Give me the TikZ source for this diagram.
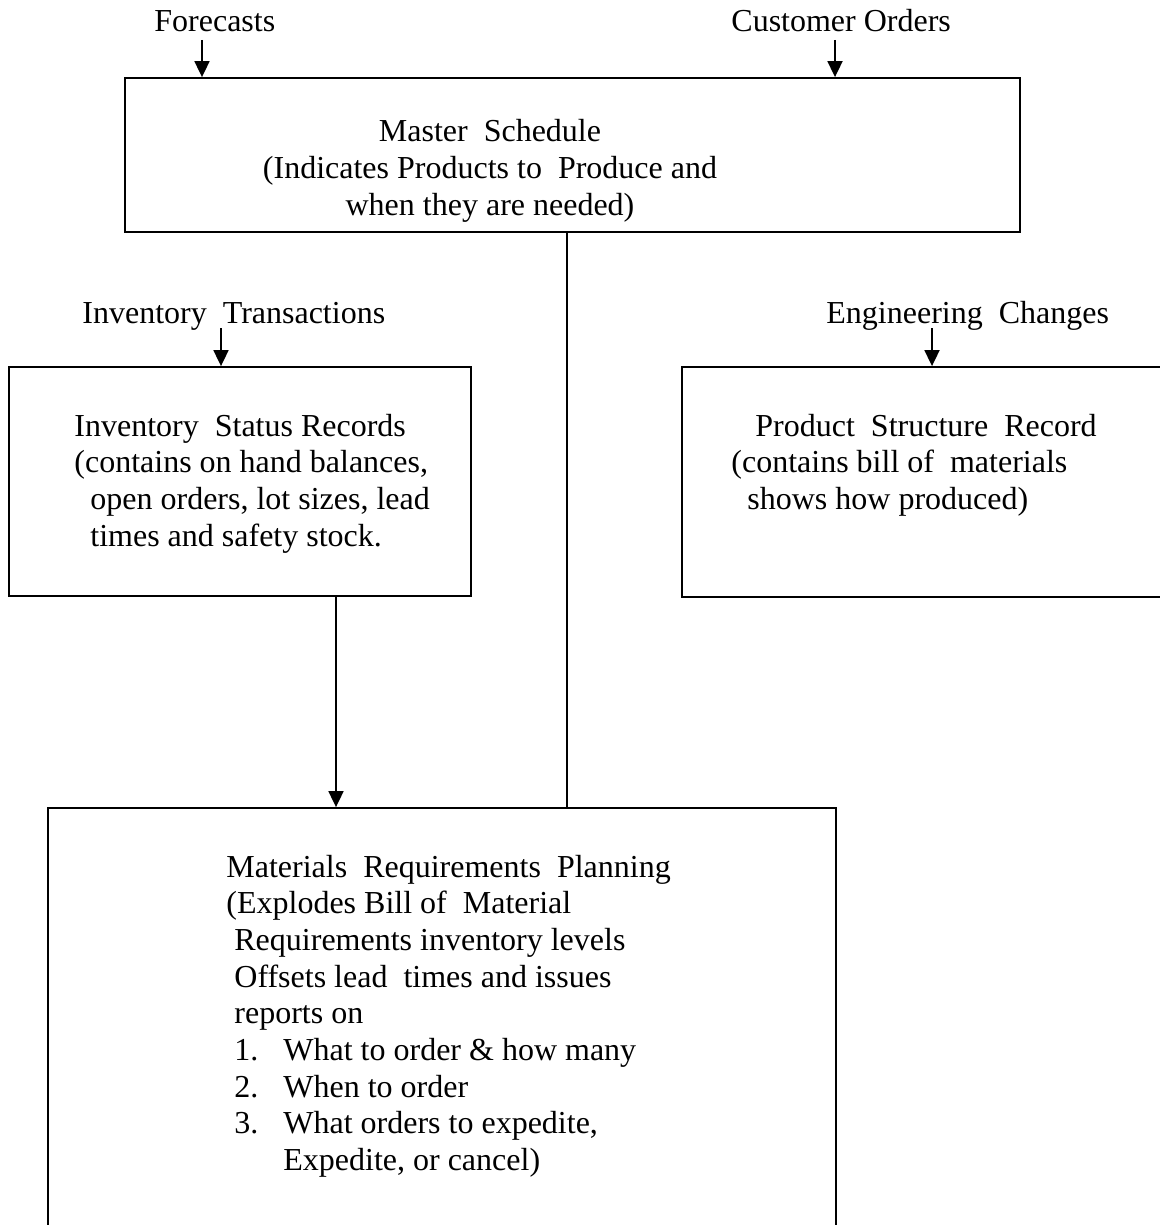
\documentclass[tikz,border=0pt]{standalone}
\usepackage{fontspec}
\setmainfont{Liberation Serif}
\usetikzlibrary{arrows.meta}
\newcommand{\indt}[1]{\hspace*{#1}}
\begin{document}
\begin{tikzpicture}[x = 0.5pt, y = -0.5pt,
    every node/.style = {inner sep = 0pt, font = \fontsize{16}{18.35}\selectfont},
    box/.style = {draw, line width = 0.9pt, rectangle},
    txt/.style = {anchor = base west},
    arr/.style = {line width = 0.9pt, -{Triangle[length = 8pt, width = 7.5pt]}},
    link/.style = {line width = 0.9pt}]
    \useasboundingbox (0,0) rectangle (1160,1225);
    \clip (0,0) rectangle (1160,1225);
        % boxes
        \node[box, minimum width = 447.5pt, minimum height = 77pt] (master) at (572.5,155) {};
        \node[box, minimum width = 231pt, minimum height = 114.5pt] (inv) at (240,481.5) {};
        \node[box, minimum width = 244pt, minimum height = 115pt] (prod) at (926,482) {};
        \node[box, minimum width = 394pt, minimum height = 226pt] (mrp) at (442,1034) {};
        % texts
        \node[txt] (forecasts) at (154,32) {Forecasts};
        \node[txt] (orders) at (731,32) {Customer Orders};
        \node[txt] (trans) at (82,323) {Inventory\ \ Transactions};
        \node[txt] (changes) at (826,323) {Engineering\ \ Changes};
        \node[anchor = base] (master-txt) at (490,142) {\begin{tabular}[t]{@{}c@{}}
            Master\ \ Schedule\\
            (Indicates Products to\ \ Produce and\\
            when they are needed)\end{tabular}};
        \node[txt] (inv-txt) at (74,436) {\begin{tabular}[t]{@{}l@{}}
            Inventory\ \ Status Records\\
            (contains on hand balances,\\
            \indt{8pt}open orders, lot sizes, lead\\
            \indt{8pt}times and safety stock.\end{tabular}};
        \node[txt] (prod-txt) at (731,436) {\begin{tabular}[t]{@{}l@{}}
            \indt{12pt}Product\ \ Structure\ \ Record\\
            (contains bill of\ \ materials\\
            \indt{8pt}shows how produced)\end{tabular}};
        \node[txt] (mrp-txt) at (226,877) {\begin{tabular}[t]{@{}l@{}}
            Materials\ \ Requirements\ \ Planning\\
            (Explodes Bill of\ \ Material\\
            \indt{4pt}Requirements inventory levels\\
            \indt{4pt}Offsets lead\ \ times and issues\\
            \indt{4pt}reports on\\
            \indt{4pt}\makebox[24.5pt][l]{1.}What to order \& how many\\
            \indt{4pt}\makebox[24.5pt][l]{2.}When to order\\
            \indt{4pt}\makebox[24.5pt][l]{3.}What orders to expedite,\\
            \indt{28.5pt}Expedite, or cancel)\end{tabular}};
        % connectors
        \coordinate (fc-src) at (202,40);
        \coordinate (co-src) at (835,40);
        \coordinate (tr-src) at (221,328);
        \coordinate (ec-src) at (932,328);
        \coordinate (inv-out) at ([xshift = 48pt]inv.south);
        \coordinate (master-out) at ([xshift = -2.75pt]master.south);
        \draw[arr] (fc-src) -- (fc-src |- master.north);
        \draw[arr] (co-src) -- (co-src |- master.north);
        \draw[arr] (tr-src) -- (tr-src |- inv.north);
        \draw[arr] (ec-src) -- (ec-src |- prod.north);
        \draw[arr] (inv-out) -- (inv-out |- mrp.north);
        \draw[link] (master-out) -- (master-out |- mrp.north);
\end{tikzpicture}
\end{document}
